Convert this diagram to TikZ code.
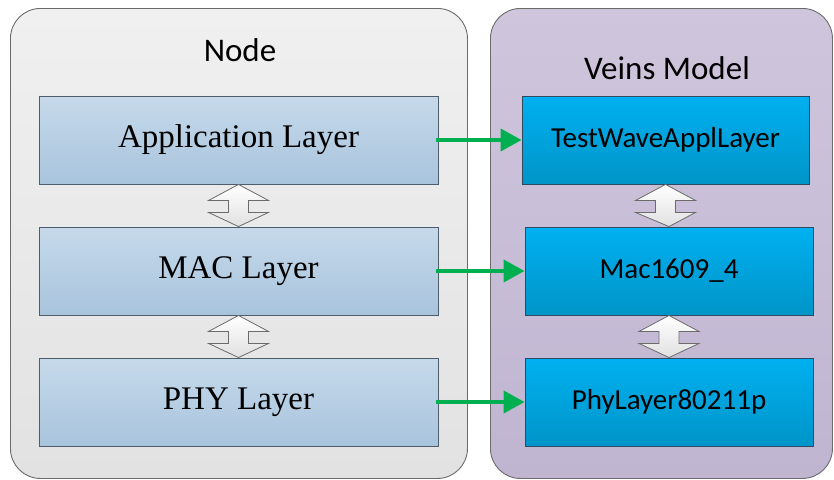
\documentclass[tikz,border=0pt]{standalone}
\usepackage{fontspec}
\setmainfont{Liberation Serif}
\newfontfamily\calfont{Carlito}
\usetikzlibrary{arrows.meta,calc}
\definecolor{contL}{HTML}{F0F0F0}
\definecolor{contLb}{HTML}{E2E2E2}
\definecolor{contR}{HTML}{CFC6DD}
\definecolor{contRb}{HTML}{C0B5D1}
\definecolor{layT}{HTML}{C6D9EA}
\definecolor{layB}{HTML}{A8C4DD}
\definecolor{vT}{HTML}{00B0F0}
\definecolor{vB}{HTML}{0095C8}
\definecolor{grn}{HTML}{00B050}
\definecolor{bord}{HTML}{6B6B6B}
\definecolor{lbord}{HTML}{4F5D6B}
\definecolor{vbord}{HTML}{2E4A62}
\tikzset{
  container/.style={draw=bord, line width=0.9pt, rounded corners=30pt, anchor=north west, inner sep=0pt},
  laybox/.style={draw=lbord, line width=0.9pt, top color=layT, bottom color=layB, inner sep=0pt, font=\fontsize{33}{39}\selectfont},
  veinbox/.style={draw=vbord, line width=0.9pt, top color=vT, bottom color=vB, inner sep=0pt, font=\calfont\fontsize{29}{34}\selectfont},
  title/.style={font=\calfont\fontsize{33}{39}\selectfont, inner sep=0pt},
  link/.style={draw=grn, line width=4pt, -{Triangle[length=21pt,width=22pt]}},
  dbl/.style={draw=bord, line width=0.8pt, top color=white, bottom color=black!12}
}
\newcommand\dblarrow[2]{%
  \path[dbl] (#1.south) -- ($(#1.south)+(30,16)$) -- ($(#1.south)+(10,16)$) -- ($(#1.south)+(10,28)$) -- ($(#1.south)+(30,28)$) -- (#2.north)
    -- ($(#1.south)+(-30,28)$) -- ($(#1.south)+(-10,28)$) -- ($(#1.south)+(-10,16)$) -- ($(#1.south)+(-30,16)$) -- cycle;}
\begin{document}
\begin{tikzpicture}[x=1pt,y=-1pt]
\useasboundingbox (0,0) rectangle (834,479);
\node[container, top color=contL, bottom color=contLb, minimum width=457pt, minimum height=470pt] (cl) at (10,8) {};
\node[container, top color=contR, bottom color=contRb, minimum width=342pt, minimum height=470pt] (cr) at (490,8) {};
\node[title] (tl) at (240,50) {Node};
\node[title] (tr) at (667,68) {Veins Model};
\node[laybox, minimum width=399pt, minimum height=88pt] (app) at (238.5,140) {Application Layer};
\node[laybox, minimum width=399pt, minimum height=88pt] (mac) at (238.5,271) {MAC Layer};
\node[laybox, minimum width=399pt, minimum height=88pt] (phy) at (238.5,402) {PHY Layer};
\node[veinbox, minimum width=287pt, minimum height=88pt] (vapp) at (665.5,140) {TestWaveApplLayer};
\node[veinbox, minimum width=288pt, minimum height=88pt] (vmac) at (669,271) {Mac1609\_4};
\node[veinbox, minimum width=288pt, minimum height=88pt] (vphy) at (669,402) {PhyLayer80211p};
\dblarrow{app}{mac}
\dblarrow{mac}{phy}
\dblarrow{vapp}{vmac}
\dblarrow{vmac}{vphy}
\draw[link] ($(app.east)+(-2,0)$) -- (vapp.west);
\draw[link] ($(mac.east)+(-2,0)$) -- (vmac.west);
\draw[link] ($(phy.east)+(-2,0)$) -- (vphy.west);
\end{tikzpicture}
\end{document}
